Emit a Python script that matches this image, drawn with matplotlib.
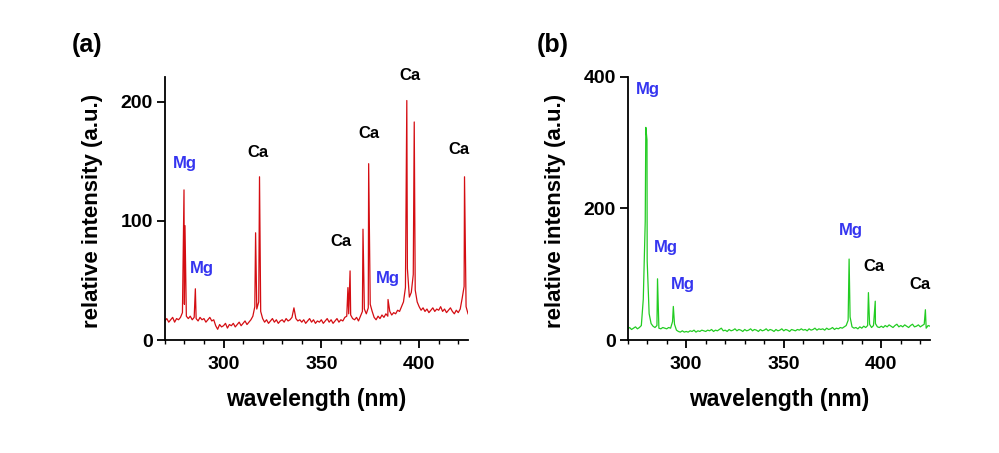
import numpy as np
import matplotlib
matplotlib.use("Agg")
import matplotlib.pyplot as plt
from matplotlib.ticker import MultipleLocator

plt.rcParams['font.family'] = ['Liberation Sans', 'DejaVu Sans']
plt.rcParams['font.weight'] = 'bold'
plt.rcParams['axes.labelweight'] = 'bold'

# baseline sampled every 1 nm, 270..425
grid_wl = np.arange(270, 426)

base_a = [16, 18, 15, 17, 19, 15, 18, 17, 19, 23,
          30, 20, 18, 20, 17, 19, 18, 16, 19, 17,
          18, 15, 17, 19, 16, 17, 12, 9, 13, 11,
          12, 14, 10, 13, 12, 14, 11, 13, 15, 12,
          14, 16, 13, 15, 17, 20, 28, 26, 32, 24,
          18, 15, 17, 14, 16, 18, 15, 17, 14, 16,
          17, 15, 18, 16, 17, 19, 27, 18, 16, 17,
          15, 17, 14, 16, 18, 15, 17, 14, 16, 15,
          17, 14, 16, 18, 15, 17, 14, 16, 18, 15,
          17, 16, 19, 20, 22, 21, 18, 17, 19, 16,
          20, 24, 26, 22, 27, 30, 24, 19, 17, 20,
          18, 21, 19, 22, 20, 24, 21, 23, 22, 25,
          24, 28, 32, 44, 60, 36, 40, 55, 42, 32,
          28, 25, 27, 24, 26, 23, 25, 27, 24, 26,
          25, 28, 24, 26, 23, 25, 27, 24, 22, 25,
          23, 26, 35, 45, 28, 22]
peak_wl_a = [279.8, 280.3, 285.6, 316.4, 318.4, 363.6, 364.7, 371.3,
             374.2, 384.1, 393.7, 397.5, 423.2]
peak_int_a = [126, 96, 43, 90, 137, 44, 58, 93, 148, 34, 201, 183, 137]

base_b = [17, 19, 16, 18, 20, 17, 19, 22, 62, 180,
          120, 40, 25, 21, 19, 22, 18, 17, 19, 18,
          17, 19, 18, 28, 24, 15, 13, 12, 14, 12,
          13, 12, 14, 13, 15, 12, 14, 13, 15, 14,
          13, 15, 14, 16, 13, 15, 14, 16, 18, 14,
          15, 13, 16, 14, 15, 17, 14, 16, 15, 13,
          16, 14, 15, 17, 14, 16, 15, 13, 16, 14,
          15, 17, 14, 16, 15, 13, 16, 14, 15, 17,
          14, 16, 15, 13, 16, 15, 14, 16, 15, 17,
          15, 16, 14, 17, 15, 16, 18, 15, 17, 16,
          17, 15, 18, 16, 17, 19, 16, 18, 17, 19,
          18, 20, 22, 30, 35, 20, 18, 19, 17, 20,
          18, 21, 19, 22, 24, 19, 22, 25, 20, 19,
          21, 19, 22, 20, 23, 21, 19, 22, 24, 20,
          22, 20, 23, 21, 19, 22, 24, 20, 21, 23,
          20, 22, 24, 18, 22, 21]
peak_wl_b = [279.3, 279.9, 285.3, 293.4, 383.5, 393.4, 396.9, 422.6]
peak_int_b = [323, 304, 93, 51, 123, 72, 59, 46]

# element labels: (text, x, y, is_mg)
labels_a = [("Mg", 280.3, 148, True), ("Mg", 289.1, 60, True),
            ("Ca", 317.4, 157, False), ("Ca", 360.2, 83, False),
            ("Ca", 374.2, 173, False), ("Mg", 384.1, 52, True),
            ("Ca", 395.1, 222, False), ("Ca", 420.6, 160, False)]
labels_b = [("Mg", 280.6, 380, True), ("Mg", 289.8, 141, True),
            ("Mg", 298.4, 84, True), ("Mg", 384.2, 167, True),
            ("Ca", 396.2, 111, False), ("Ca", 419.9, 84, False)]

MG_BLUE = '#3535f0'


def merge(base, pwl, pint):
    wl = np.concatenate([grid_wl, pwl])
    it = np.concatenate([base, pint])
    order = np.argsort(wl, kind='stable')
    return wl[order], it[order]


def style_axis(ax, ymax, ystep):
    ax.set_xlim(270, 425)
    ax.set_ylim(0, ymax)
    ax.spines['top'].set_visible(False)
    ax.spines['right'].set_visible(False)
    for s in ('left', 'bottom'):
        ax.spines[s].set_linewidth(1.3)
    ax.xaxis.set_major_locator(MultipleLocator(50))
    ax.xaxis.set_minor_locator(MultipleLocator(10))
    ax.yaxis.set_major_locator(MultipleLocator(ystep))
    ax.tick_params(axis='both', which='major', labelsize=14, width=1.3, length=6)
    ax.tick_params(axis='x', which='major', pad=5.5)
    ax.tick_params(axis='y', which='major', pad=2.5)
    ax.tick_params(axis='x', which='minor', width=1.0, length=3)
    ax.set_xlabel("wavelength (nm)", fontsize=16.5)
    ax.set_ylabel("relative intensity (a.u.)", fontsize=16)
    ax.xaxis.set_label_coords(0.5, -0.224)
    ax.xaxis.label.set_verticalalignment('center')
    ax.yaxis.set_label_coords(-0.24, 0.49)
    ax.yaxis.label.set_verticalalignment('center')
    for lab in ax.get_xticklabels() + ax.get_yticklabels():
        lab.set_fontweight('bold')


fig = plt.figure(figsize=(9.99, 4.53), dpi=100)
ax1 = fig.add_axes([0.165, 0.2494, 0.3035, 0.5813])
ax2 = fig.add_axes([0.6283, 0.2494, 0.3027, 0.5813])

wl, it = merge(base_a, peak_wl_a, peak_int_a)
ax1.plot(wl, it, color='#d40d12', lw=0.9)
style_axis(ax1, 221, 100)
for t, x, y, mg in labels_a:
    ax1.text(x, y, t, ha='center', va='center', fontsize=12, fontweight='bold',
             color=MG_BLUE if mg else 'black')

wl, it = merge(base_b, peak_wl_b, peak_int_b)
ax2.plot(wl, it, color='#22cc22', lw=0.9)
style_axis(ax2, 400, 200)
for t, x, y, mg in labels_b:
    ax2.text(x, y, t, ha='center', va='center', fontsize=12, fontweight='bold',
             color=MG_BLUE if mg else 'black')

fig.text(0.0876, 0.90, "(a)", ha='center', va='center', fontsize=18, fontweight='bold')
fig.text(0.553, 0.90, "(b)", ha='center', va='center', fontsize=18, fontweight='bold')

fig.savefig("out.png", dpi=100)
